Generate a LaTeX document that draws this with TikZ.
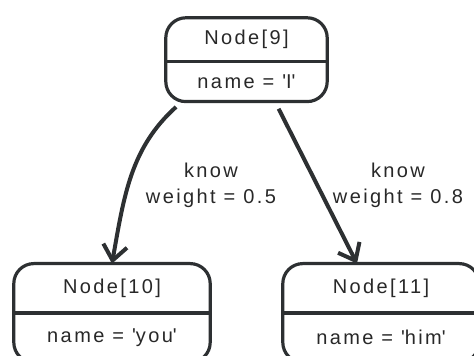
\documentclass[tikz,border=0pt]{standalone}
\usepackage{fontspec}
\newfontfamily\diagfont[LetterSpace=12]{Liberation Sans}
\usetikzlibrary{arrows.meta, positioning}
\definecolor{linecolor}{RGB}{45,48,50}
\definecolor{labelcolor}{RGB}{40,40,40}

\begin{document}
\begin{tikzpicture}[
    nodename/.style={rectangle, minimum width=161pt, minimum height=43pt, inner sep=0pt,
        font=\diagfont\fontsize{20}{26}\selectfont, text=labelcolor},
    nodeattr/.style={nodename, minimum height=40pt},
    wide/.style={minimum width=196pt, minimum height=49pt},
    box/.style={draw=linecolor, line width=3.2pt, rounded corners=20pt},
    divider/.style={draw=linecolor, line width=3.2pt},
    arrow/.style={-{Straight Barb[length=15pt, width=24pt]}, line width=4pt, draw=linecolor, shorten <=8pt},
    edgelabel/.style={align=center, font=\diagfont\fontsize{20}{26}\selectfont, text=labelcolor}
]
    \useasboundingbox (0,0) rectangle (474pt,356pt);

    % Node[9] (source)
    \node[nodename] (node9name) at (246.5pt,316.5pt) {Node[9]};
    \node[nodeattr, below=0pt of node9name] (node9attr) {name = \textquotesingle I\textquotesingle};
    \draw[box] (node9name.north west) rectangle (node9attr.south east);
    \draw[divider] (node9name.south west) -- (node9name.south east);

    % Node[10] and Node[11] (targets)
    \node[nodename, wide, below=162pt of node9attr, xshift=-134.5pt] (node10name) {Node[10]};
    \node[nodeattr, wide, below=0pt of node10name] (node10attr) {name = \textquotesingle you\textquotesingle};
    \draw[box] (node10name.north west) rectangle (node10attr.south east);
    \draw[divider] (node10name.south west) -- (node10name.south east);

    \node[nodename, wide, below=162pt of node9attr, xshift=134.5pt] (node11name) {Node[11]};
    \node[nodeattr, wide, below=0pt of node11name] (node11attr) {name = \textquotesingle him\textquotesingle};
    \draw[box] (node11name.north west) rectangle (node11attr.south east);
    \draw[divider] (node11name.south west) -- (node11name.south east);

    % Relationships
    \draw[arrow] ([xshift=-64.5pt]node9attr.south) to[out=222, in=80] (node10name.north);
    \draw[arrow] ([xshift=28.5pt]node9attr.south) -- ([xshift=-24pt]node11name.north);

    \node[edgelabel] (knowleft) at (211pt,171pt) {know\\weight = 0.5};
    \node[edgelabel] (knowright) at (398pt,171pt) {know\\weight = 0.8};

\end{tikzpicture}
\end{document}
